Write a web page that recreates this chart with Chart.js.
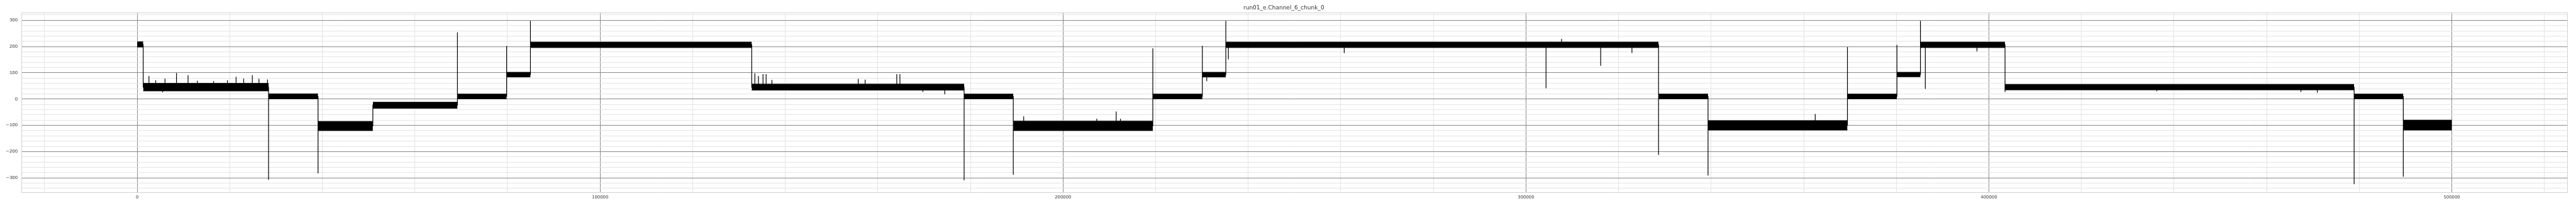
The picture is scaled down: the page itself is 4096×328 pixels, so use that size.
<!DOCTYPE html>
<html>
<head>
<meta charset="utf-8">
<script src="https://cdn.jsdelivr.net/npm/chart.js@4.4.1/dist/chart.umd.min.js"></script>
<style>
  html, body { margin: 0; padding: 0; background: #fff; }
  #wrap { width: 4096px; height: 328px; }
</style>
</head>
<body>
<div id="wrap"><canvas id="chart" width="4096" height="328"></canvas></div>
<script>

const chartTitle = 'run01_e.Channel_6_chunk_0';

// Plateaus of the trace: edges (sample index), top and bottom of the noise band, centre
const segEdges = [0, 1300, 28380, 39070, 50910, 69180, 79810, 84950, 132750, 178630, 189250,
                  219390, 230090, 235160, 328640, 339330, 369440, 380130, 385210, 403480,
                  478890, 489510, 500000];
const segHi  = [218, 60, 20, -85, -12, 19, 102, 217, 57, 19, -84, 19, 102, 217, 19, -82, 19, 102, 217, 56, 19, -80];
const segLo  = [198, 31, 1, -120, -35, 1, 84, 196, 34, 1, -120, 1, 84, 196, 1, -118, 1, 85, 196, 35, 1, -118];
const segMid = [208, 45, 10, -102, -23, 10, 93, 207, 45, 10, -102, 10, 93, 207, 10, -100, 10, 93, 207, 45, 10, -100];

// Overshoot at each step between two plateaus (null = none)
const stepPeak = [null, -307, -283, null, 254, 202, 298, null, -309, -288, 193,
                  203, 298, -213, -291, 198, 206, 298, 27, -324, -296];

// Single spikes / dips inside a plateau
const spikeX = [2540, 4000, 5500, 6010, 8490, 10990, 13000, 16500, 19500, 21370, 23010, 24870, 26300, 28150,
                133430, 134200, 135190, 135860, 137110, 155760, 157250, 164080, 164760, 169720, 174450,
                191500, 207290, 211480, 212400, 231040,
                235710, 260740, 304330, 307690, 316140, 322890,
                362480, 386260, 397420, 436270, 467400, 470930];
const spikeY = [88, 72, 26, 78, 99, 91, 70, 68, 72, 85, 78, 91, 77, 75,
                98, 88, 95, 95, 73, 77, 74, 95, 95, 27, 18,
                -66, -75, -47, -75, 68,
                151, 175, 41, 229, 127, 176,
                -57, 39, 182, 30, 27, 24];

// Labelled (major) ticks; minor grid every 20000 / 20
const xMajor = [0, 100000, 200000, 300000, 400000, 500000];
const yMajor = [-300, -200, -100, 0, 100, 200, 300];

let xGrid = [];
for (let v = -20000; v <= 520000; v += 20000) xGrid.push(v);
let yGrid = [];
for (let v = -340; v <= 320; v += 20) yGrid.push(v);

const majorGrid = '#8a8a8a';
const minorGrid = '#e4e4e4';
const edgeColor = '#d2d2d2';
const textColor = '#333333';
const tickFont = { family: 'DejaVu Sans', size: 6.9 };

function levelAt(x) {
    for (let i = 0; i < segMid.length; i++) {
        if (x >= segEdges[i] && x < segEdges[i + 1]) {
            return segMid[i];
        }
    }
    return segMid[segMid.length - 1];
}

let datasets = [];

// noise band of every plateau, filled between its top and bottom
for (let i = 0; i < segMid.length; i++) {
    datasets.push({
        data: [{x: segEdges[i], y: segHi[i]}, {x: segEdges[i + 1], y: segHi[i]}],
        borderColor: '#000', borderWidth: 1, pointRadius: 0, fill: false
    });
    datasets.push({
        data: [{x: segEdges[i], y: segLo[i]}, {x: segEdges[i + 1], y: segLo[i]}],
        borderColor: '#000', borderWidth: 1, pointRadius: 0,
        backgroundColor: '#000', fill: '-1'
    });
}

// trace through the plateau centres, with the steps and their overshoots
let trace = [];
for (let i = 0; i < segMid.length; i++) {
    trace.push({x: segEdges[i], y: segMid[i]});
    trace.push({x: segEdges[i + 1], y: segMid[i]});
    if (i < stepPeak.length && stepPeak[i] !== null) {
        trace.push({x: segEdges[i + 1], y: stepPeak[i]});
    }
}
datasets.push({data: trace, borderColor: '#000', borderWidth: 1.2, pointRadius: 0, fill: false});

// single spikes
let spikes = [];
spikeX.forEach((x, i) => {
    spikes.push({x: x, y: levelAt(x)});
    spikes.push({x: x, y: spikeY[i]});
    spikes.push({x: x, y: null});
});
datasets.push({data: spikes, borderColor: '#000', borderWidth: 1.2, pointRadius: 0, fill: false, spanGaps: false});

const ctx = document.getElementById('chart').getContext('2d');
const myChart = new Chart(ctx, {
    type: 'line',
    data: { datasets: datasets },
    options: {
        responsive: false,
        animation: false,
        devicePixelRatio: 1,
        layout: { padding: { left: 0, right: 13.4, top: 0, bottom: 0 } },
        elements: { line: { tension: 0 } },
        plugins: {
            legend: { display: false },
            tooltip: { enabled: false },
            title: {
                display: true,
                text: chartTitle,
                color: textColor,
                font: { family: 'DejaVu Sans', size: 9, weight: 'normal' },
                padding: { top: 7.2, bottom: 2.4 }
            }
        },
        scales: {
            x: {
                type: 'linear',
                min: -25000,
                max: 525000,
                bounds: 'data',
                afterBuildTicks: (s) => { s.ticks = xGrid.map(v => ({value: v})); },
                ticks: {
                    autoSkip: false,
                    maxRotation: 0,
                    padding: 4,
                    color: textColor,
                    font: tickFont,
                    callback: (v) => xMajor.includes(v) ? String(v) : ''
                },
                grid: {
                    drawTicks: false,
                    lineWidth: 1,
                    color: (c) => (c.tick && xMajor.includes(c.tick.value)) ? majorGrid : minorGrid
                },
                border: { color: edgeColor, width: 1 },
                afterFit: (s) => { s.height = 21.8; }
            },
            y: {
                type: 'linear',
                min: -355,
                max: 328.5,
                bounds: 'data',
                afterBuildTicks: (s) => { s.ticks = yGrid.map(v => ({value: v})); },
                ticks: {
                    autoSkip: false,
                    padding: 6,
                    color: textColor,
                    font: tickFont,
                    callback: (v) => yMajor.includes(v) ? String(v).replace('-', '\u2212') : ''
                },
                grid: {
                    drawTicks: false,
                    lineWidth: 1,
                    color: (c) => (c.tick && yMajor.includes(c.tick.value)) ? majorGrid : minorGrid
                },
                border: { color: edgeColor, width: 1 },
                afterFit: (s) => { s.width = 34.1; }
            },
            xTop: {
                type: 'linear',
                position: 'top',
                ticks: { display: false },
                grid: { display: false, drawTicks: false },
                border: { color: edgeColor, width: 1 },
                afterFit: (s) => { s.height = 0; }
            },
            yRight: {
                type: 'linear',
                position: 'right',
                ticks: { display: false },
                grid: { display: false, drawTicks: false },
                border: { color: edgeColor, width: 1 },
                afterFit: (s) => { s.width = 0; }
            }
        }
    }
});
</script>
</body>
</html>
